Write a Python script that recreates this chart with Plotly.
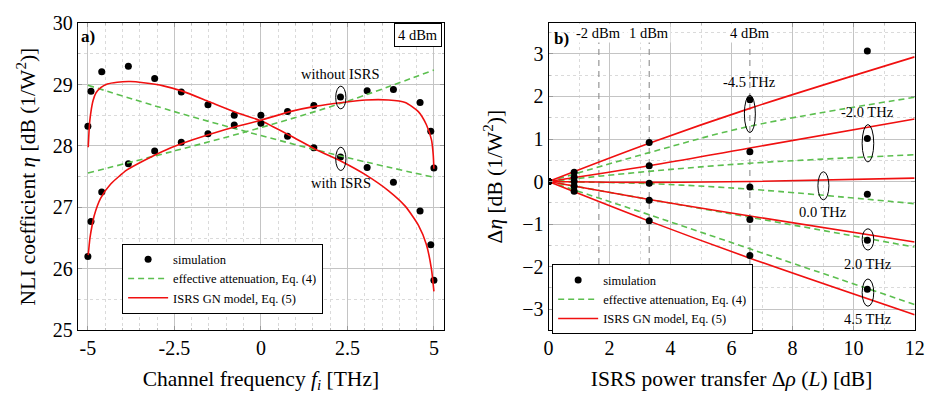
import plotly.graph_objects as go

# ---------------- data: panel a) ----------------
chan_freq = [-5.0, -4.91, -4.6, -3.83, -3.07, -2.3, -1.53, -0.77, 0.0, 0.77, 1.53, 2.3, 3.07, 3.83, 4.6, 4.91, 5.0]
sim_with = [28.32, 28.89, 29.21, 29.30, 29.10, 28.88, 28.67, 28.50, 28.50, 28.16, 27.97, 27.82, 27.65, 27.41, 26.94, 26.39, 25.81]
sim_without = [26.20, 26.77, 27.25, 27.71, 27.92, 28.06, 28.20, 28.34, 28.37, 28.56, 28.66, 28.80, 28.90, 28.92, 28.71, 28.24, 27.64]

gn_with_f = [-4.99, -4.95, -4.9, -4.85, -4.77, -4.63, -4.44, -4.15, -3.77, -3.39, -2.82, -2.25, -1.49, -0.73, 0.0,
             0.84, 1.60, 2.36, 3.03, 3.69, 4.17, 4.55, 4.78, 4.93, 5.0]
gn_with = [27.98, 28.38, 28.60, 28.74, 28.86, 28.95, 29.01, 29.04, 29.05, 29.03, 28.98, 28.89, 28.72, 28.55, 28.41,
           28.17, 27.94, 27.74, 27.53, 27.27, 27.02, 26.71, 26.40, 25.99, 25.63]
gn_wo_f = [-4.99, -4.94, -4.88, -4.82, -4.63, -4.34, -3.87, -3.39, -2.73, -1.97, -1.02, 0.0, 0.84, 1.60, 2.36,
           3.03, 3.69, 4.17, 4.55, 4.78, 4.93, 4.98, 5.0]
gn_wo = [26.22, 26.50, 26.70, 26.86, 27.15, 27.38, 27.61, 27.76, 27.94, 28.10, 28.27, 28.42, 28.56, 28.65, 28.71,
         28.75, 28.75, 28.71, 28.56, 28.35, 28.10, 27.86, 27.63]

ea_f = [-5.0, -2.5, 0.0, 2.5, 5.0]
ea_with = [28.99, 28.56, 28.17, 27.81, 27.49]
ea_without = [27.56, 27.92, 28.30, 28.73, 29.24]

x_ticks_a = [-5, -2.5, 0, 2.5, 5]
x_ticktext_a = ["-5", "-2.5", "0", "2.5", "5"]

# ---------------- data: panel b) ----------------
rho_sim = [0.0, 0.84, 3.3, 6.6, 10.45]
sim_m45 = [0.0, 0.22, 0.92, 1.92, 3.07]
sim_m20 = [0.0, 0.10, 0.37, 0.70, 1.01]
sim_00 = [0.0, 0.0, -0.04, -0.13, -0.30]
sim_p20 = [0.0, -0.11, -0.44, -0.89, -1.38]
sim_p45 = [0.0, -0.23, -0.92, -1.74, -2.53]

rho_line = [0.0, 3.3, 6.6, 12.0]
gn_m45 = [0.0, 0.90, 1.72, 2.93]
gn_m20 = [0.0, 0.37, 0.79, 1.47]
gn_00 = [0.0, -0.02, 0.0, 0.08]
gn_p20 = [0.0, -0.42, -0.81, -1.42]
gn_p45 = [0.0, -0.93, -1.80, -3.13]
ea_m45 = [0.0, 0.68, 1.30, 1.98]
ea_m20 = [0.0, 0.24, 0.43, 0.63]
ea_00 = [0.0, -0.05, -0.18, -0.52]
ea_p20 = [0.0, -0.42, -0.84, -1.54]
ea_p45 = [0.0, -0.78, -1.58, -2.89]

dbm_pos = [1.65, 3.3, 6.6]
dbm_labels = ["-2 dBm", "1 dBm", "4 dBm"]

freq_labels = ["-4.5 THz", "-2.0 THz", "0.0 THz", "2.0 THz", "4.5 THz"]

FONT = '"Liberation Serif", "Times New Roman", serif'
RED = "#f01010"
GREEN = "#5cbf4f"
DASH = "6px,4px"

fig = go.Figure()

# ---- panel a ----
fig.add_trace(go.Scatter(x=chan_freq, y=sim_with, mode="markers", marker=dict(color="black", size=7),
                         name="simulation", legend="legend", xaxis="x", yaxis="y"))
fig.add_trace(go.Scatter(x=ea_f, y=ea_with, mode="lines", line=dict(color=GREEN, width=1.6, dash=DASH, shape="spline"),
                         name="effective attenuation, Eq. (4)", legend="legend", xaxis="x", yaxis="y"))
fig.add_trace(go.Scatter(x=gn_with_f, y=gn_with, mode="lines", line=dict(color=RED, width=1.6, shape="spline", smoothing=0.6),
                         name="ISRS GN model, Eq. (5)", legend="legend", xaxis="x", yaxis="y"))
fig.add_trace(go.Scatter(x=chan_freq, y=sim_without, mode="markers", marker=dict(color="black", size=7),
                         showlegend=False, xaxis="x", yaxis="y"))
fig.add_trace(go.Scatter(x=ea_f, y=ea_without, mode="lines", line=dict(color=GREEN, width=1.6, dash=DASH, shape="spline"),
                         showlegend=False, xaxis="x", yaxis="y"))
fig.add_trace(go.Scatter(x=gn_wo_f, y=gn_wo, mode="lines", line=dict(color=RED, width=1.6, shape="spline", smoothing=0.6),
                         showlegend=False, xaxis="x", yaxis="y"))

# ---- panel b ----
for xv in dbm_pos:
    fig.add_trace(go.Scatter(x=[xv, xv], y=[-3.49, 3.3], mode="lines",
                             line=dict(color="#8c8c8c", width=1.1, dash="6px,5px"),
                             showlegend=False, hoverinfo="skip", xaxis="x2", yaxis="y2"))

ea_sets = [ea_m45, ea_m20, ea_00, ea_p20, ea_p45]
gn_sets = [gn_m45, gn_m20, gn_00, gn_p20, gn_p45]
sim_sets = [sim_m45, sim_m20, sim_00, sim_p20, sim_p45]
for i, ys in enumerate(ea_sets):
    fig.add_trace(go.Scatter(x=rho_line, y=ys, mode="lines", line=dict(color=GREEN, width=1.6, dash=DASH, shape="spline"),
                             name="effective attenuation, Eq. (4)", showlegend=(i == 0), legend="legend2",
                             legendrank=2, xaxis="x2", yaxis="y2"))
for i, ys in enumerate(gn_sets):
    fig.add_trace(go.Scatter(x=rho_line, y=ys, mode="lines", line=dict(color=RED, width=1.6, shape="spline"),
                             name="ISRS GN model, Eq. (5)", showlegend=(i == 0), legend="legend2",
                             legendrank=3, xaxis="x2", yaxis="y2"))
for i, ys in enumerate(sim_sets):
    fig.add_trace(go.Scatter(x=rho_sim, y=ys, mode="markers", marker=dict(color="black", size=7),
                             name="simulation", showlegend=(i == 0), legend="legend2",
                             legendrank=1, xaxis="x2", yaxis="y2"))

axis_common = dict(
    showline=True, linecolor="black", linewidth=1, mirror="allticks",
    ticks="inside", ticklen=4, tickcolor="#9a9a9a",
    showgrid=True, gridcolor="#c4c4c4", gridwidth=1, zeroline=False,
    tickfont=dict(family=FONT, size=20, color="black"),
    title_font=dict(family=FONT, size=21.5, color="black"),
)

dom_y = [0.1604, 0.9677]
fig.update_layout(
    width=943, height=402,
    margin=dict(l=0, r=0, t=0, b=0),
    paper_bgcolor="white", plot_bgcolor="white",
    font=dict(family=FONT, color="black"),
    xaxis=dict(domain=[0.0785, 0.473], range=[-5.29, 5.29], tickmode="array",
               tickvals=x_ticks_a, ticktext=x_ticktext_a,
               minor=dict(tickmode="linear", tick0=0, dtick=0.5, showgrid=True, gridcolor="#dadada",
                          griddash="dot", ticks="inside", ticklen=2, tickcolor="#bbbbbb"),
               title=dict(text="Channel frequency <i>f<sub>i</sub></i> [THz]", standoff=12),
               anchor="y", **axis_common),
    yaxis=dict(domain=dom_y, range=[25, 30], dtick=1,
               minor=dict(dtick=0.5, showgrid=True, gridcolor="#dadada", griddash="dot",
                          ticks="inside", ticklen=2, tickcolor="#bbbbbb"),
               title=dict(text="NLI coefficient <i>η</i> [dB (1/W<sup>2</sup>)]", standoff=11),
               anchor="x", **axis_common),
    xaxis2=dict(domain=[0.5857, 0.9802], range=[0, 12], dtick=2,
                minor=dict(dtick=1, showgrid=True, gridcolor="#dadada", griddash="dot",
                           ticks="inside", ticklen=2, tickcolor="#bbbbbb"),
                title=dict(text="ISRS power transfer Δ<i>ρ</i> (<i>L</i>) [dB]", standoff=12),
                anchor="y2", **axis_common),
    yaxis2=dict(domain=dom_y, range=[-3.49, 3.72], dtick=1,
                minor=dict(dtick=0.5, showgrid=True, gridcolor="#dadada", griddash="dot",
                           ticks="inside", ticklen=2, tickcolor="#bbbbbb"),
                title=dict(text="Δ<i>η</i> [dB (1/W<sup>2</sup>)]", standoff=13),
                anchor="x2", **axis_common),
    legend=dict(x=0.1262, y=0.388, xanchor="left", yanchor="top", bgcolor="white",
                bordercolor="black", borderwidth=1, font=dict(family=FONT, size=12.5),
                tracegroupgap=0, itemwidth=40),
    legend2=dict(x=0.5896, y=0.3333, xanchor="left", yanchor="top", bgcolor="white",
                 bordercolor="black", borderwidth=1, font=dict(family=FONT, size=12.5),
                 tracegroupgap=0, itemwidth=40),
    showlegend=True,
)

ann = []
ann_font = dict(family=FONT, size=14.5, color="black")
ann.append(dict(x=-4.99, y=29.79, xref="x", yref="y", text="<b>a)</b>", showarrow=False,
                font=dict(family=FONT, size=17, color="black")))
ann.append(dict(x=4.53, y=29.81, xref="x", yref="y", text="4 dBm", showarrow=False, font=ann_font,
                bordercolor="black", borderwidth=1, borderpad=3, bgcolor="white"))
ann.append(dict(x=2.31, y=29.17, xref="x", yref="y", text="without ISRS", showarrow=False, font=ann_font))
ann.append(dict(x=2.31, y=27.40, xref="x", yref="y", text="with ISRS", showarrow=False, font=ann_font))
ann.append(dict(x=0.41, y=3.36, xref="x2", yref="y2", text="<b>b)</b>", showarrow=False,
                font=dict(family=FONT, size=17, color="black")))
for xv, lab in zip(dbm_pos, dbm_labels):
    ann.append(dict(x=xv, y=3.50, xref="x2", yref="y2", text=lab, showarrow=False, font=ann_font,
                    bgcolor="white"))
freq_label_pos = [(6.59, 2.33), (10.46, 1.64), (9.01, -0.72), (10.46, -1.93), (10.46, -3.22)]
for (xv, yv), lab in zip(freq_label_pos, freq_labels):
    ann.append(dict(x=xv, y=yv, xref="x2", yref="y2", text=lab, showarrow=False, font=ann_font))
fig.update_layout(annotations=ann)

shapes = []
ell_a = [(2.31, 28.79, 0.148, 0.185), (2.31, 27.79, 0.148, 0.19)]
for cx, cy, hw, hh in ell_a:
    shapes.append(dict(type="circle", xref="x", yref="y", x0=cx - hw, x1=cx + hw, y0=cy - hh, y1=cy + hh,
                       line=dict(color="black", width=1)))
ell_b = [(6.6, 1.59, 0.18, 0.44), (10.47, 0.90, 0.19, 0.44), (9.01, -0.10, 0.18, 0.33),
         (10.47, -1.36, 0.19, 0.25), (10.47, -2.61, 0.19, 0.32)]
for cx, cy, hw, hh in ell_b:
    shapes.append(dict(type="circle", xref="x2", yref="y2", x0=cx - hw, x1=cx + hw, y0=cy - hh, y1=cy + hh,
                       line=dict(color="black", width=1)))
fig.update_layout(shapes=shapes)

fig.write_html("out.html")
